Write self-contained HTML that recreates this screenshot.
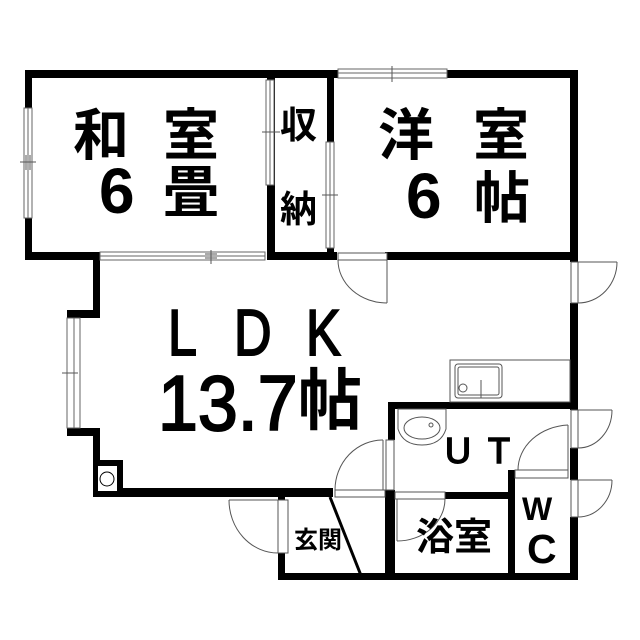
<!DOCTYPE html>
<html><head><meta charset="utf-8"><style>
html,body{margin:0;padding:0;background:#fff;width:640px;height:640px;overflow:hidden}
text{font-family:"Liberation Sans","Noto Sans CJK JP",sans-serif;fill:#000}
.b{font-weight:bold}
.s{stroke:#000;stroke-width:1.6}
</style></head><body>
<svg width="640" height="640" viewBox="0 0 640 640" xmlns="http://www.w3.org/2000/svg">
<rect width="640" height="640" fill="#fff"/>
<g fill="#000">
<rect x="25" y="70" width="553" height="8"/>
<rect x="25" y="70" width="7" height="190"/>
<rect x="25" y="252" width="75" height="8"/>
<rect x="267" y="70" width="8" height="190"/>
<rect x="267" y="252" width="70" height="8"/>
<rect x="327" y="70" width="7" height="190"/>
<rect x="385" y="252" width="193" height="8"/>
<rect x="570" y="70" width="8" height="192"/>
<rect x="570" y="303" width="8" height="107"/>
<rect x="570" y="448" width="8" height="32"/>
<rect x="570" y="517" width="8" height="63"/>
<rect x="93" y="255" width="7" height="62"/>
<rect x="67" y="310" width="33" height="8"/>
<rect x="67" y="428" width="33" height="8"/>
<rect x="93" y="428" width="7" height="69"/>
<rect x="93" y="460" width="30" height="37"/>
<rect x="93" y="488" width="240" height="9"/>
<rect x="388" y="402" width="190" height="7"/>
<rect x="388" y="402" width="7" height="38"/>
<rect x="385" y="490" width="10" height="90"/>
<rect x="385" y="492" width="10" height="7"/>
<rect x="445" y="492" width="68" height="7"/>
<rect x="508" y="470" width="7" height="110"/>
<rect x="508" y="470" width="8" height="8"/>
<rect x="278" y="497" width="7" height="83"/>
<rect x="278" y="573" width="300" height="7"/>
</g>
<rect x="98" y="466" width="19" height="25" fill="#fff"/>
<circle cx="107" cy="479" r="7" fill="#fff" stroke="#000" stroke-width="1"/>
<line x1="330" y1="497" x2="362" y2="578" stroke="#000" stroke-width="3"/>
<g fill="#fff" stroke="#666" stroke-width="1">
<rect x="24" y="108" width="8" height="110"/><line x1="28" y1="108" x2="28" y2="218"/>
<rect x="100" y="252" width="165" height="8"/><line x1="100" y1="256" x2="265" y2="256"/>
<rect x="266" y="80" width="8" height="105"/><line x1="270" y1="80" x2="270" y2="185"/>
<rect x="326" y="142" width="8" height="106"/><line x1="330" y1="142" x2="330" y2="248"/>
<rect x="338" y="69" width="109" height="9"/><line x1="338" y1="73" x2="447" y2="73"/>
<rect x="67" y="318" width="13" height="110"/><line x1="74" y1="318" x2="74" y2="428"/>
</g>
<g stroke="#555" stroke-width="1">
<line x1="20" y1="162" x2="36" y2="162"/><line x1="26" y1="155" x2="26" y2="170"/><line x1="30" y1="155" x2="30" y2="170"/>
<line x1="211" y1="250" x2="211" y2="264"/><line x1="205" y1="254" x2="217" y2="254"/><line x1="205" y1="258" x2="217" y2="258"/>
<line x1="262" y1="132" x2="280" y2="132"/><line x1="322" y1="195" x2="338" y2="195"/>
<line x1="392" y1="66" x2="392" y2="82"/><line x1="62" y1="373" x2="78" y2="373"/>
</g>
<g fill="none" stroke="#555" stroke-width="1">
<rect x="338" y="253" width="49" height="7" fill="#fff"/>
<line x1="387" y1="260" x2="387" y2="303"/><path d="M338 260 A49 43 0 0 0 387 303"/>
<rect x="571" y="262" width="7" height="41" fill="#fff"/>
<line x1="578" y1="262" x2="617" y2="262"/><path d="M617 262 A39 41 0 0 1 578 303"/>
<rect x="571" y="410" width="7" height="38" fill="#fff"/>
<line x1="578" y1="410" x2="612" y2="410"/><path d="M612 410 A34 38 0 0 1 578 448"/>
<rect x="571" y="480" width="7" height="37" fill="#fff"/>
<line x1="578" y1="480" x2="612" y2="480"/><path d="M612 480 A34 37 0 0 1 578 517"/>
<rect x="515" y="470" width="53" height="8" fill="#fff"/>
<line x1="568" y1="470" x2="568" y2="425"/><path d="M568 425 A53 45 0 0 0 518 470"/>
<rect x="386" y="440" width="8" height="50" fill="#fff"/>
<path d="M383 440 A48 50 0 0 0 335 490"/>
<line x1="383" y1="440" x2="383" y2="490"/>
<rect x="335" y="490" width="50" height="7" fill="#fff"/>
<rect x="395" y="492" width="50" height="7" fill="#fff"/>
<line x1="397" y1="499" x2="397" y2="541"/><path d="M445 499 A48 42 0 0 1 397 541"/>
<rect x="278" y="500" width="10" height="53" fill="#fff"/>
<line x1="278" y1="500" x2="229" y2="500"/><path d="M229 500 A49 53 0 0 0 278 553"/>
</g>
<g fill="none" stroke="#555" stroke-width="1">
<rect x="450" y="360" width="120" height="42" fill="#fff"/>
<rect x="455" y="364" width="47" height="34" rx="3"/>
<rect x="458" y="367" width="41" height="28" rx="2"/>
<circle cx="463" cy="388" r="4"/>
<line x1="481" y1="380" x2="481" y2="398"/>
<path d="M398 409 h48 v20 q-5 16 -24 16 q-19 0 -24 -16 z"/>
<ellipse cx="422" cy="428" rx="18" ry="11"/>
<circle cx="431" cy="425" r="2"/>
</g>
<g class="b" font-size="56">
<text x="73" y="155">和</text>
<text x="163" y="155">室</text>
<text x="378" y="155">洋</text>
<text x="473" y="155">室</text>
<text x="163" y="212">畳</text>
<text x="474" y="218">帖</text>
</g>
<g class="b" font-size="64">
<text x="99" y="213">6</text>
<text x="406" y="218">6</text>
</g>
<g class="b" font-size="37">
<text x="280" y="138">収</text>
<text x="280" y="222">納</text>
</g>
<g class="s" font-size="52" transform="translate(0,355) scale(1,1.25)">
<text x="168" y="0">L</text>
<text x="234" y="0">D</text>
<text x="306" y="0">K</text>
</g>
<text class="s" font-size="60" transform="translate(158,430) scale(0.95,1.3)" textLength="147" lengthAdjust="spacingAndGlyphs">13.7</text>
<text class="b" font-size="64" transform="translate(298,424) scale(1,1.05)">帖</text>
<text class="s" x="445" y="463" font-size="36">U</text>
<text class="s" x="488" y="463" font-size="36">T</text>
<text class="b" x="416" y="550" font-size="38">浴室</text>
<text class="b" x="294" y="548" font-size="24">玄関</text>
<text class="b" x="522" y="520" font-size="32">W</text>
<text class="b" x="527" y="563" font-size="41">C</text>
</svg>
</body></html>
